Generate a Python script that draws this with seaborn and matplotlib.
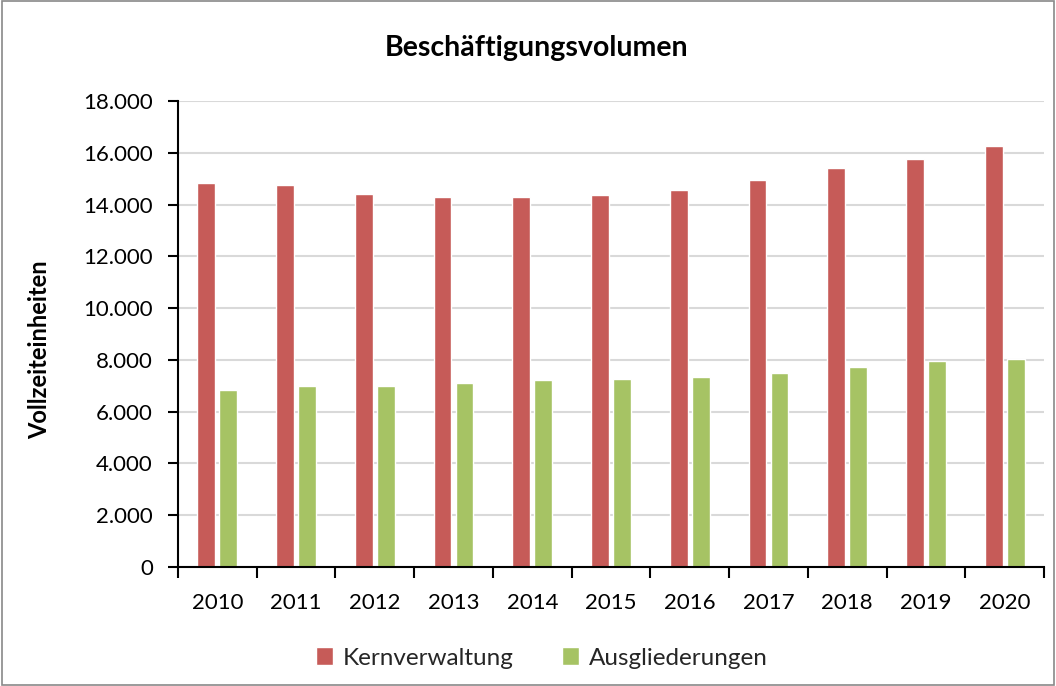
import matplotlib
matplotlib.use("Agg")
import matplotlib.pyplot as plt
import matplotlib.ticker as mticker
from matplotlib.patches import Rectangle
import seaborn as sns
import pandas as pd
import numpy as np

years = ["2010", "2011", "2012", "2013", "2014", "2015", "2016", "2017", "2018", "2019", "2020"]
kernverwaltung = [14850, 14760, 14410, 14300, 14300, 14350, 14550, 14950, 15400, 15750, 16245]
ausgliederungen = [6830, 6980, 6980, 7120, 7215, 7280, 7340, 7500, 7740, 7950, 8040]
series_names = ["Kernverwaltung", "Ausgliederungen"]
colors = ["#C65B58", "#A6C364"]

df = pd.DataFrame({
    "Jahr": years * 2,
    "Wert": kernverwaltung + ausgliederungen,
    "Serie": [series_names[0]] * len(years) + [series_names[1]] * len(years),
})

sns.set_theme(style="white")
plt.rcParams["font.family"] = ["Lato", "DejaVu Sans"]

fig = plt.figure(figsize=(10.56, 6.86), dpi=100)
ax = fig.add_axes([178 / 1056, 1 - 567 / 686, (1044 - 178) / 1056, (567 - 101) / 686])

sns.barplot(data=df, x="Jahr", y="Wert", hue="Serie", palette=colors, width=0.56, gap=0.19,
            ax=ax, legend=True, saturation=1)

ax.set_ylim(0, 18000)
ax.set_xlim(-0.5, len(years) - 0.5)
ax.yaxis.set_major_locator(mticker.MultipleLocator(2000))
ax.yaxis.set_major_formatter(mticker.FuncFormatter(lambda v, p: f"{int(v):,}".replace(",", ".")))
ax.grid(axis="y", color="#D9D9D9", linewidth=1.5)
ax.set_axisbelow(True)

for s in ["top", "right"]:
    ax.spines[s].set_visible(False)
for s in ["left", "bottom"]:
    ax.spines[s].set_color("black")
    ax.spines[s].set_linewidth(1.5)

ax.tick_params(axis="y", which="major", direction="out", length=7, width=1.5, color="black",
               labelsize=16, labelcolor="#000000", pad=11, left=True)
ax.tick_params(axis="x", which="major", length=0, labelsize=16, labelcolor="#000000", pad=19)
ax.xaxis.set_minor_locator(mticker.FixedLocator(np.arange(-0.5, len(years), 1.0)))
ax.tick_params(axis="x", which="minor", direction="out", length=8, width=1.5, color="black", bottom=True)

ax.set_xlabel("")
ax.set_ylabel("")
fig.text(40 / 1056, 1 - 350 / 686, "Vollzeiteinheiten", rotation=90, ha="center", va="center",
         fontsize=17, fontweight="bold", color="black")

fig.text(537 / 1056, 1 - 48 / 686, "Beschäftigungsvolumen", ha="center", va="center",
         fontsize=20.5, fontweight="bold", color="black")

leg = ax.legend(loc="center", bbox_to_anchor=(542 / 1056, 1 - 658 / 686), bbox_transform=fig.transFigure,
                ncol=2, frameon=False, fontsize=17.5, handlelength=0.7, handleheight=0.7,
                columnspacing=2.0, handletextpad=0.4)

fig.patches.append(Rectangle((0.002, 0.002), 0.996, 0.996, transform=fig.transFigure,
                             fill=False, edgecolor="#898989", linewidth=1.2))

fig.savefig("out.png", dpi=100)
